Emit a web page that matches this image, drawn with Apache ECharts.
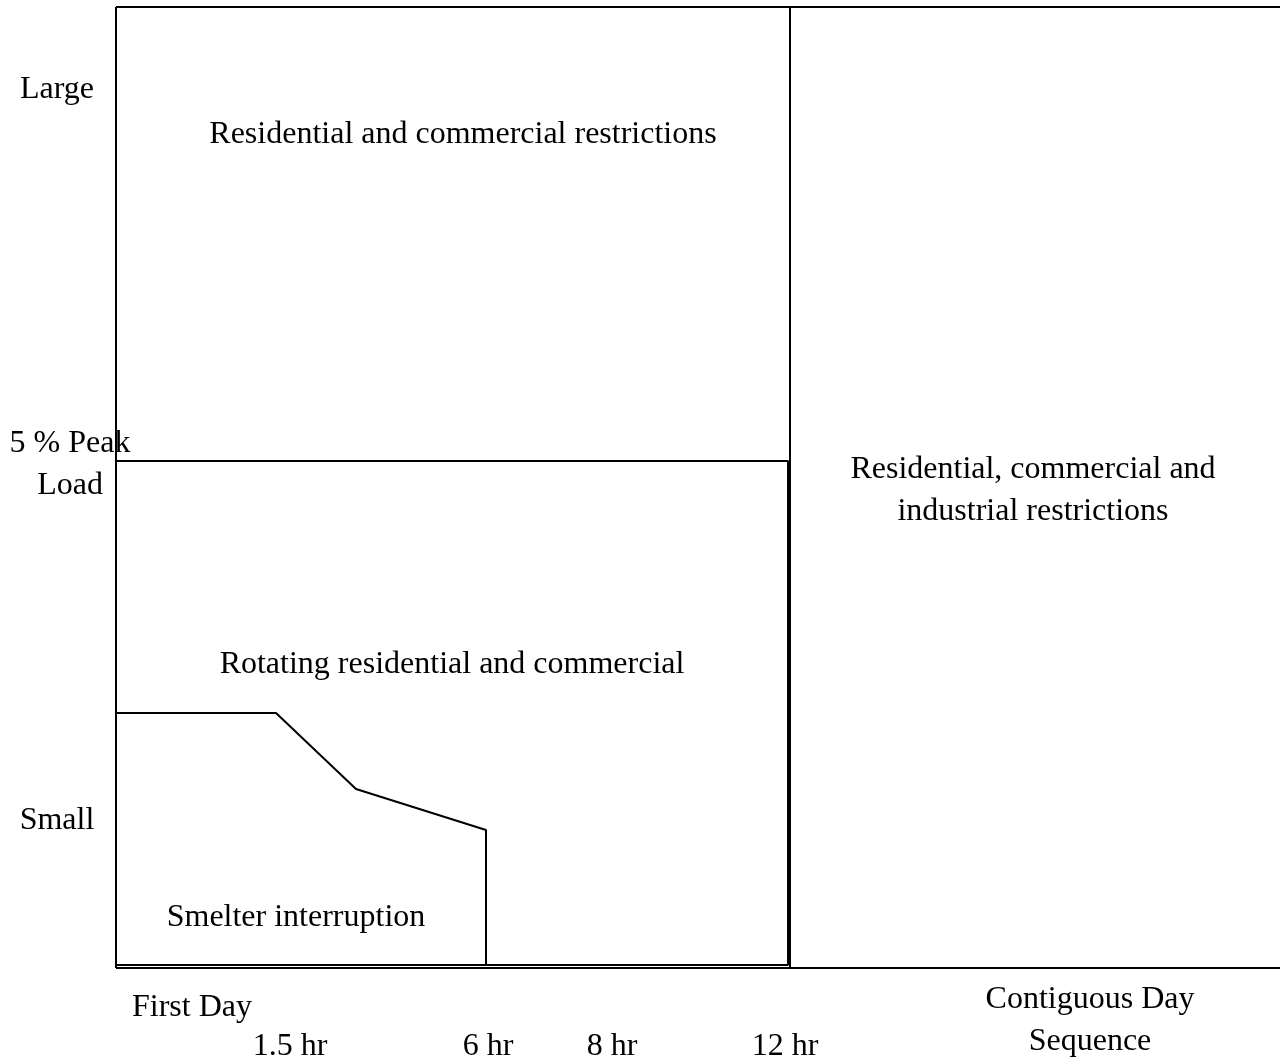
<!DOCTYPE html>
<html><head><meta charset="utf-8">
<script src="https://cdn.jsdelivr.net/npm/echarts@6/dist/echarts.min.js"></script>
<style>html,body{margin:0;padding:0;background:#fff}#c{width:1280px;height:1059px}</style>
</head><body><div id="c"></div>
<script>
// Diagram units: x = horizontal extent (first-day hours mapped to schematic scale), y = load size (0 = bottom)
const xTickValues = [174, 372, 496, 669];
const xTickLabels = ['1.5 hr', '6 hr', '8 hr', '12 hr'];
const yTickValues = [147, 503, 878];
const yTickLabels = ['Small', '5 % Peak\nLoad', 'Large'];

const outerTop = [[0, 961], [1164, 961]];
const outerLeft = [[0, 0], [0, 961]];
const outerBottom = [[0, 0], [1164, 0]];
const dayDivider = [[674, 0], [674, 961]];
const rotatingBox = [[0, 507], [672, 507], [672, 3], [0, 3]];
const smelterEdge = [[-3, 255], [160, 255], [240, 179], [370, 138], [370, 3]];

const regionLabels = ['Residential and commercial restrictions', 'Residential, commercial and\nindustrial restrictions', 'Rotating residential and commercial', 'Smelter interruption', 'First Day', 'Contiguous Day\nSequence'];
const regionPos = [[347, 833], [917, 477], [336, 303], [180, 50], [76, -40], [974, -53]];

const FONT = '"Liberation Serif", serif';
const FS = 32;
const chart = echarts.init(document.getElementById('c'));
const lineSeries = (d) => ({
  type: 'line', data: d, symbol: 'none', clip: false, silent: true,
  lineStyle: { color: '#000', width: 2 }, animation: false
});
chart.setOption({
  animation: false,
  grid: { left: 116, right: 0, top: 7, bottom: 91, outerBoundsMode: 'none', containLabel: false },
  xAxis: {
    type: 'value', min: 0, max: 1164,
    axisLine: { show: false }, axisTick: { show: false }, splitLine: { show: false },
    axisLabel: {
      customValues: xTickValues, margin: 63,
      formatter: v => xTickLabels[xTickValues.indexOf(v)],
      fontFamily: FONT, fontSize: FS, color: '#000'
    }
  },
  yAxis: {
    type: 'value', min: 0, max: 961,
    axisLine: { show: false }, axisTick: { show: false }, splitLine: { show: false },
    axisLabel: {
      customValues: yTickValues, margin: 59, align: 'center', lineHeight: 42,
      formatter: v => {
        const t = yTickLabels[yTickValues.indexOf(v)];
        return t.indexOf('\n') >= 0 ? '{p|' + t.replace('\n', '}\n{p|') + '}' : t;
      },
      rich: { p: { padding: [0, 0, 0, 26], fontFamily: FONT, fontSize: FS, color: '#000', lineHeight: 42 } },
      fontFamily: FONT, fontSize: FS, color: '#000'
    }
  },
  series: [
    lineSeries(outerTop), lineSeries(outerLeft), lineSeries(outerBottom), lineSeries(dayDivider),
    lineSeries(rotatingBox), lineSeries(smelterEdge),
    {
      type: 'scatter', symbolSize: 0, clip: false, silent: true,
      itemStyle: { opacity: 1 },
      data: regionPos.map((p, i) => ({ value: p, name: regionLabels[i] })),
      label: {
        show: true, position: 'inside', formatter: p => p.name, opacity: 1,
        fontFamily: FONT, fontSize: FS, color: '#000', lineHeight: 42, align: 'center', verticalAlign: 'middle'
      }
    }
  ]
});
</script></body></html>
